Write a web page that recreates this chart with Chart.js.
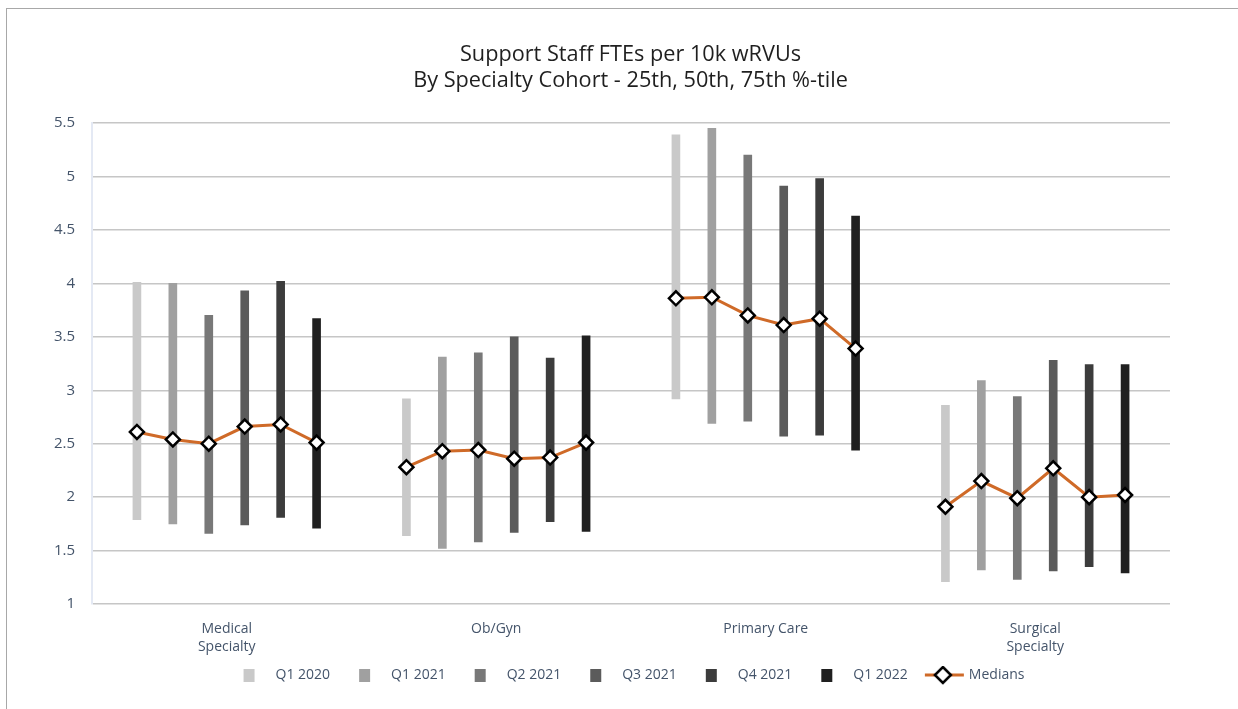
<!DOCTYPE html>
<html>
<head>
<meta charset="utf-8">
<script src="https://cdn.jsdelivr.net/npm/chart.js@4"></script>
<style>
  html, body { margin: 0; padding: 0; background: #fff; overflow: hidden; }
  #frame {
    position: absolute; left: 6px; top: 8px;
    width: 1248px; height: 720px;
    border: 1px solid #a8a8a8; overflow: hidden;
  }
  #wrap { position: absolute; left: 0; top: 0; width: 1246px; height: 700px; }
</style>
</head>
<body>
<div id="frame"><div id="wrap"><canvas id="staffChart"></canvas></div></div>
<script>
// Cohorts and periods
const categories = [['Medical', 'Specialty'], 'Ob/Gyn', 'Primary Care', ['Surgical', 'Specialty']];
const periods = ['Q1 2020', 'Q1 2021', 'Q2 2021', 'Q3 2021', 'Q4 2021', 'Q1 2022'];
const periodColors = ['#c9c9c9', '#a0a0a0', '#787878', '#5b5b5b', '#3c3c3c', '#202020'];

// per cohort, one value per period
const p25 = [
  [1.79, 1.75, 1.66, 1.74, 1.81, 1.71],
  [1.64, 1.52, 1.58, 1.67, 1.77, 1.68],
  [2.92, 2.69, 2.71, 2.57, 2.58, 2.44],
  [1.21, 1.32, 1.23, 1.31, 1.35, 1.29]
];
const p75 = [
  [4.01, 4.00, 3.70, 3.93, 4.02, 3.67],
  [2.92, 3.31, 3.35, 3.50, 3.30, 3.51],
  [5.39, 5.45, 5.20, 4.91, 4.98, 4.63],
  [2.86, 3.09, 2.94, 3.28, 3.24, 3.24]
];
const medians = [
  [2.61, 2.54, 2.50, 2.66, 2.68, 2.51],
  [2.28, 2.43, 2.44, 2.36, 2.37, 2.51],
  [3.86, 3.87, 3.70, 3.61, 3.67, 3.39],
  [1.91, 2.15, 1.99, 2.27, 2.00, 2.02]
];
const yTicks = { min: 1, max: 5.5, step: 0.5 };

const groupPct = 0.8;   // share of a cohort slot used by its six bars
const textColor = '#44546a';
const lineColor = '#cf6a28';
const fontFamily = "'Open Sans', sans-serif";

// x position (in cohort units) of period i inside cohort g
const slotX = (g, i) => g + (i - (periods.length - 1) / 2) * groupPct / periods.length;

const barSets = periods.map((label, i) => ({
  label: label,
  data: categories.map((c, g) => ({ x: slotX(g, i), y: [p25[g][i], p75[g][i]] })),
  backgroundColor: periodColors[i],
  borderWidth: 0,
  grouped: false,
  barThickness: 8,
  order: 1
}));

// null point breaks the median line between cohorts
const medianPoints = [];
medians.forEach((vals, g) => {
  vals.forEach((v, i) => medianPoints.push({ x: slotX(g, i), y: v }));
  medianPoints.push({ x: g + 0.5, y: null });
});

// legend markers: 64px wide images, item box is 52 wide
function legendSwatch(color) {
  const c = document.createElement('canvas');
  c.width = 64; c.height = 14;
  const cx = c.getContext('2d');
  cx.fillStyle = color;
  cx.fillRect(33, 1, 11, 13);
  return c;
}
function legendMedian() {
  const c = document.createElement('canvas');
  c.width = 64; c.height = 20;
  const cx = c.getContext('2d');
  cx.strokeStyle = lineColor; cx.lineWidth = 3;
  cx.beginPath(); cx.moveTo(21, 10); cx.lineTo(60, 10); cx.stroke();
  cx.beginPath();
  cx.moveTo(39, 2); cx.lineTo(47, 10); cx.lineTo(39, 18); cx.lineTo(31, 10); cx.closePath();
  cx.fillStyle = '#fff'; cx.fill();
  cx.strokeStyle = '#000'; cx.lineWidth = 2.5; cx.stroke();
  return c;
}

// title and legend in the original are centred on the whole frame, not the plot
const shiftBlocks = {
  id: 'shiftBlocks',
  afterLayout(chart) {
    if (chart.titleBlock) { chart.titleBlock.left += 42; chart.titleBlock.right += 42; }
    if (chart.legend) { chart.legend.left += 32; chart.legend.right += 32; }
  }
};

const ctx = document.getElementById('staffChart').getContext('2d');
new Chart(ctx, {
  type: 'bar',
  data: {
    datasets: [...barSets, {
      type: 'line',
      label: 'Medians',
      data: medianPoints,
      borderColor: lineColor,
      borderWidth: 3,
      pointStyle: 'rectRot',
      pointRadius: 7,
      pointBackgroundColor: '#fff',
      pointBorderColor: '#000',
      pointBorderWidth: 2.5,
      spanGaps: false,
      order: 0
    }]
  },
  plugins: [shiftBlocks],
  options: {
    responsive: true,
    maintainAspectRatio: false,
    animation: false,
    layout: { padding: { left: 0, right: 83, top: 10, bottom: 17 } },
    plugins: {
      tooltip: { enabled: false },
      title: {
        display: true,
        text: ['Support Staff FTEs per 10k wRVUs', 'By Specialty Cohort - 25th, 50th, 75th %-tile'],
        color: '#1f1f1f',
        font: { family: fontFamily, size: 21.7, weight: 'normal', lineHeight: 1.2 },
        padding: { top: 23, bottom: 29 }
      },
      legend: {
        position: 'bottom',
        labels: {
          color: textColor,
          font: { family: fontFamily, size: 14 },
          usePointStyle: true,
          pointStyleWidth: 52,
          padding: 2,
          generateLabels: chart => {
            const items = periods.map((p, i) => ({
              text: p, datasetIndex: i, pointStyle: legendSwatch(periodColors[i]),
              fontColor: textColor, lineWidth: 0, hidden: false
            }));
            items.push({
              text: 'Medians', datasetIndex: periods.length, pointStyle: legendMedian(),
              fontColor: textColor, lineWidth: 0, hidden: false
            });
            return items;
          }
        }
      }
    },
    scales: {
      x: {
        type: 'linear',
        offset: false,
        min: -0.5,
        max: categories.length - 0.5,
        grid: { display: false, drawTicks: false },
        border: { display: false },
        afterBuildTicks: scale => { scale.ticks = categories.map((c, i) => ({ value: i })); },
        afterFit: scale => { scale.height = 62; },
        ticks: {
          callback: v => categories[v],
          color: textColor,
          font: { family: fontFamily, size: 14, lineHeight: 1.3 },
          padding: 16,
          maxRotation: 0,
          autoSkip: false
        }
      },
      y: {
        min: yTicks.min,
        max: yTicks.max,
        afterFit: scale => { scale.width = 85; },
        ticks: {
          stepSize: yTicks.step,
          callback: v => String(v),
          color: textColor,
          font: { family: fontFamily, size: 15 },
          padding: 17
        },
        grid: { color: '#c6c6c6', lineWidth: 1.5, drawTicks: false },
        border: { color: '#e4e9f4', width: 2 }
      }
    }
  }
});
</script>
</body>
</html>
